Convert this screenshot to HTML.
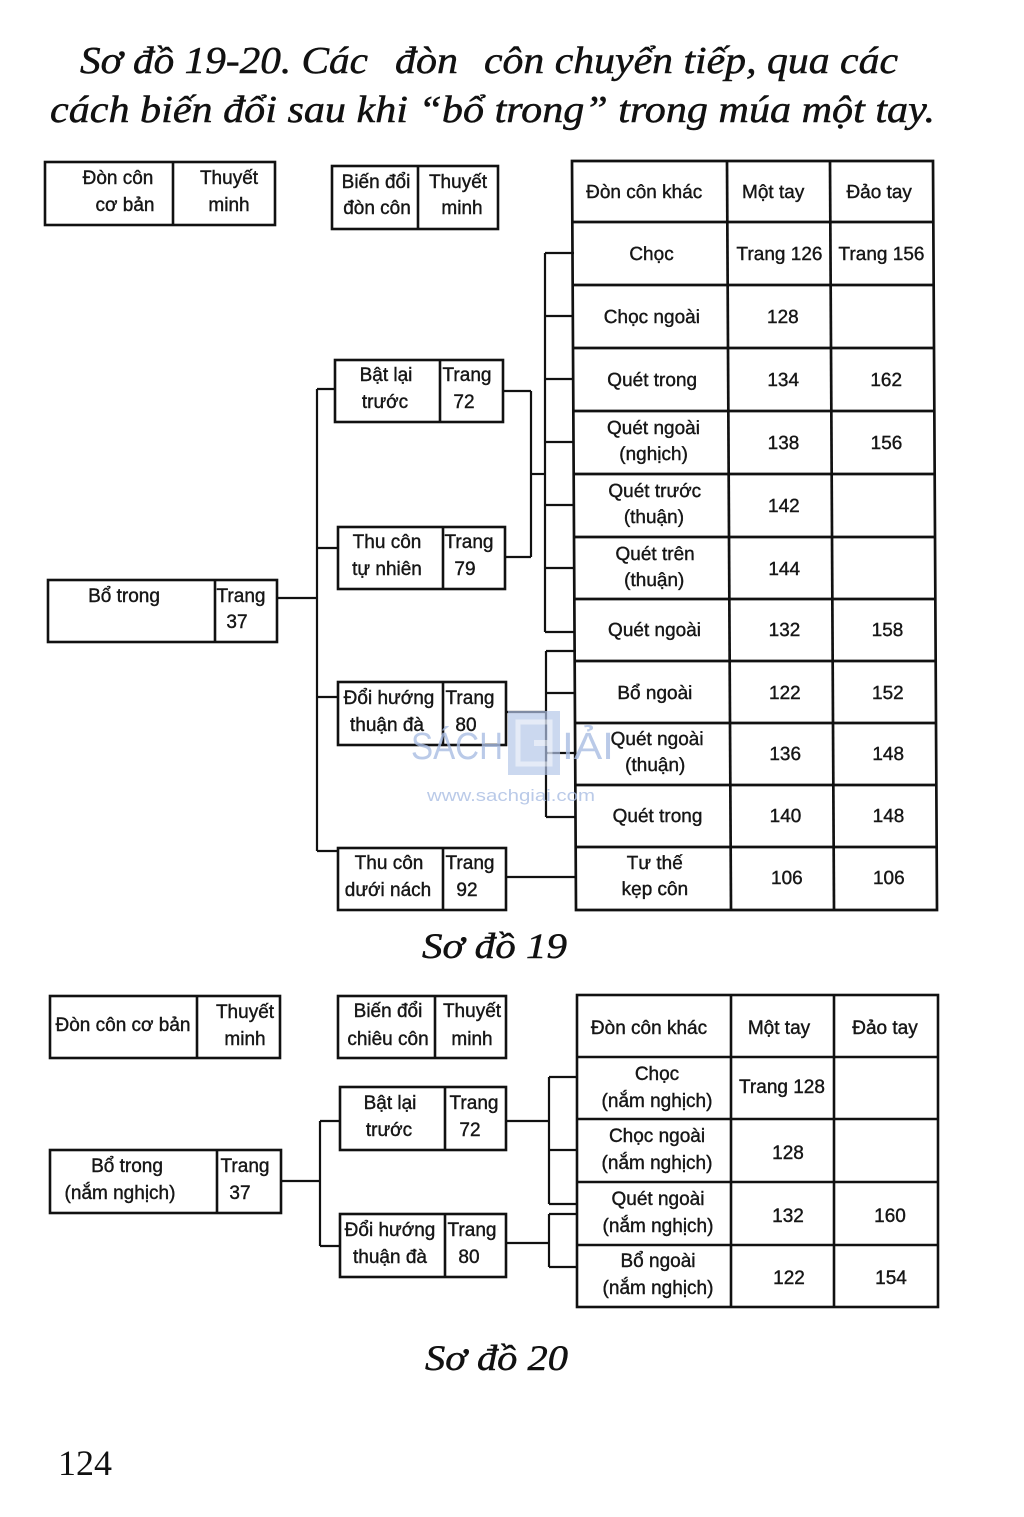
<!DOCTYPE html>
<html><head><meta charset="utf-8"><style>
html,body{margin:0;padding:0;background:#fff;}
svg{display:block;}
.t{font-family:"Liberation Sans",sans-serif;font-size:19px;fill:#161616;text-anchor:middle;stroke:#161616;stroke-width:0.4;}
.ti{font-family:"Liberation Serif",serif;font-style:italic;fill:#111;stroke:#111;stroke-width:0.5;}
</style></head><body>
<svg width="1024" height="1517" viewBox="0 0 1024 1517" xmlns="http://www.w3.org/2000/svg">
<rect width="1024" height="1517" fill="#fff"/>

<!-- Title -->
<text class="ti" x="80" y="73" font-size="38" textLength="288" lengthAdjust="spacingAndGlyphs">Sơ đồ 19-20. Các</text>
<text class="ti" x="395" y="73" font-size="38" textLength="63" lengthAdjust="spacingAndGlyphs">đòn</text>
<text class="ti" x="484" y="73" font-size="38" textLength="414" lengthAdjust="spacingAndGlyphs">côn chuyển tiếp, qua các</text>
<text class="ti" x="50" y="122" font-size="38" textLength="885" lengthAdjust="spacingAndGlyphs">cách biến đổi sau khi “bổ trong” trong múa một tay.</text>

<!-- ===== Diagram 19 ===== -->
<g stroke="#111" stroke-width="2.6" fill="none">
  <rect x="45" y="162" width="230" height="63"/>
  <line x1="173" y1="162" x2="173" y2="225"/>
  <rect x="332" y="166" width="166" height="63"/>
  <line x1="418" y1="166" x2="418" y2="229"/>
  <rect x="48" y="580" width="229" height="62"/>
  <line x1="215" y1="580" x2="215" y2="642"/>
  <rect x="335" y="360" width="168" height="62"/>
  <line x1="440" y1="360" x2="440" y2="422"/>
  <rect x="338" y="527" width="167" height="62"/>
  <line x1="443" y1="527" x2="443" y2="589"/>
  <rect x="338" y="682" width="168" height="63"/>
  <line x1="443" y1="682" x2="443" y2="745"/>
  <rect x="338" y="848" width="168" height="62"/>
  <line x1="443" y1="848" x2="443" y2="910"/>
</g>
<g stroke="#111" stroke-width="2.2" fill="none">
  <line x1="277" y1="598" x2="317" y2="598"/>
  <line x1="317" y1="389" x2="317" y2="851"/>
  <line x1="317" y1="389" x2="335" y2="389"/>
  <line x1="317" y1="548" x2="338" y2="548"/>
  <line x1="317" y1="697" x2="338" y2="697"/>
  <line x1="317" y1="851" x2="338" y2="851"/>

  <line x1="503" y1="391" x2="531" y2="391"/>
  <line x1="505" y1="557" x2="531" y2="557"/>
  <line x1="531" y1="391" x2="531" y2="557"/>
  <line x1="531" y1="474" x2="545" y2="474"/>

  <line x1="545" y1="253" x2="545" y2="632"/>
  <line x1="545" y1="253" x2="574" y2="253"/>
  <line x1="545" y1="316" x2="574" y2="316"/>
  <line x1="545" y1="379" x2="574" y2="379"/>
  <line x1="545" y1="442" x2="574" y2="442"/>
  <line x1="545" y1="505" x2="574" y2="505"/>
  <line x1="545" y1="568" x2="575" y2="568"/>
  <line x1="545" y1="632" x2="575" y2="632"/>

  <line x1="506" y1="712" x2="546" y2="712"/>
  <line x1="546" y1="651" x2="546" y2="817"/>
  <line x1="546" y1="651" x2="576" y2="651"/>
  <line x1="546" y1="693" x2="576" y2="693"/>
  <line x1="546" y1="753" x2="576" y2="753"/>
  <line x1="546" y1="817" x2="576" y2="817"/>

  <line x1="506" y1="877" x2="576" y2="877"/>
</g>

<text class="t" x="118" y="184">Đòn côn</text>
<text class="t" x="125" y="211">cơ bản</text>
<text class="t" x="229" y="184">Thuyết</text>
<text class="t" x="229" y="211">minh</text>
<text class="t" x="376" y="188">Biến đổi</text>
<text class="t" x="377" y="214">đòn côn</text>
<text class="t" x="458" y="188">Thuyết</text>
<text class="t" x="462" y="214">minh</text>

<text class="t" x="124" y="602">Bổ trong</text>
<text class="t" x="241" y="602">Trang</text>
<text class="t" x="237" y="628">37</text>

<text class="t" x="386" y="381">Bật lại</text>
<text class="t" x="385" y="408">trước</text>
<text class="t" x="467" y="381">Trang</text>
<text class="t" x="464" y="408">72</text>

<text class="t" x="387" y="548">Thu côn</text>
<text class="t" x="387" y="575">tự nhiên</text>
<text class="t" x="469" y="548">Trang</text>
<text class="t" x="465" y="575">79</text>

<text class="t" x="389" y="704">Đổi hướng</text>
<text class="t" x="387" y="731">thuận đà</text>
<text class="t" x="470" y="704">Trang</text>
<text class="t" x="466" y="731">80</text>

<text class="t" x="389" y="869">Thu côn</text>
<text class="t" x="388" y="896">dưới nách</text>
<text class="t" x="470" y="869">Trang</text>
<text class="t" x="467" y="896">92</text>

<g transform="translate(-2.86,0) skewX(0.306)">
  <g stroke="#111" stroke-width="2.7" fill="none">
    <rect x="574" y="161" width="361" height="749"/>
    <line x1="729" y1="161" x2="729" y2="910"/>
    <line x1="832" y1="161" x2="832" y2="910"/>
    <line x1="574" y1="222" x2="935" y2="222"/>
    <line x1="574" y1="285" x2="935" y2="285"/>
    <line x1="574" y1="348" x2="935" y2="348"/>
    <line x1="574" y1="411" x2="935" y2="411"/>
    <line x1="574" y1="474" x2="935" y2="474"/>
    <line x1="574" y1="537" x2="935" y2="537"/>
    <line x1="574" y1="599" x2="935" y2="599"/>
    <line x1="574" y1="661" x2="935" y2="661"/>
    <line x1="574" y1="723" x2="935" y2="723"/>
    <line x1="574" y1="785" x2="935" y2="785"/>
    <line x1="574" y1="847" x2="935" y2="847"/>
  </g>
  <text class="t" x="646" y="198">Đòn côn khác</text>
  <text class="t" x="775" y="198">Một tay</text>
  <text class="t" x="881" y="198">Đảo tay</text>

  <text class="t" x="653" y="260">Chọc</text>
  <text class="t" x="781" y="260">Trang 126</text>
  <text class="t" x="883" y="260">Trang 156</text>

  <text class="t" x="653" y="323">Chọc ngoài</text>
  <text class="t" x="784" y="323">128</text>

  <text class="t" x="653" y="386">Quét trong</text>
  <text class="t" x="784" y="386">134</text>
  <text class="t" x="887" y="386">162</text>

  <text class="t" x="654" y="434">Quét ngoài</text>
  <text class="t" x="654" y="460">(nghịch)</text>
  <text class="t" x="784" y="449">138</text>
  <text class="t" x="887" y="449">156</text>

  <text class="t" x="655" y="497">Quét trước</text>
  <text class="t" x="654" y="523">(thuận)</text>
  <text class="t" x="784" y="512">142</text>

  <text class="t" x="655" y="560">Quét trên</text>
  <text class="t" x="654" y="586">(thuận)</text>
  <text class="t" x="784" y="575">144</text>

  <text class="t" x="654" y="636">Quét ngoài</text>
  <text class="t" x="784" y="636">132</text>
  <text class="t" x="887" y="636">158</text>

  <text class="t" x="654" y="699">Bổ ngoài</text>
  <text class="t" x="784" y="699">122</text>
  <text class="t" x="887" y="699">152</text>

  <text class="t" x="656" y="745">Quét ngoài</text>
  <text class="t" x="654" y="771">(thuận)</text>
  <text class="t" x="784" y="760">136</text>
  <text class="t" x="887" y="760">148</text>

  <text class="t" x="656" y="822">Quét trong</text>
  <text class="t" x="784" y="822">140</text>
  <text class="t" x="887" y="822">148</text>

  <text class="t" x="653" y="869">Tư thế</text>
  <text class="t" x="653" y="895">kẹp côn</text>
  <text class="t" x="785" y="884">106</text>
  <text class="t" x="887" y="884">106</text>
</g>

<text class="ti" x="422" y="958" font-size="36" textLength="145" lengthAdjust="spacingAndGlyphs">Sơ đồ 19</text>

<!-- ===== Diagram 20 ===== -->
<g stroke="#111" stroke-width="2.6" fill="none">
  <rect x="50" y="996" width="230" height="62"/>
  <line x1="197" y1="996" x2="197" y2="1058"/>
  <rect x="338" y="996" width="168" height="62"/>
  <line x1="435" y1="996" x2="435" y2="1058"/>

  <rect x="50" y="1150" width="231" height="63"/>
  <line x1="217" y1="1150" x2="217" y2="1213"/>

  <rect x="340" y="1087" width="166" height="63"/>
  <line x1="445" y1="1087" x2="445" y2="1150"/>
  <rect x="340" y="1214" width="166" height="63"/>
  <line x1="445" y1="1214" x2="445" y2="1277"/>

  <rect x="577" y="995" width="361" height="312"/>
  <line x1="731" y1="995" x2="731" y2="1307"/>
  <line x1="834" y1="995" x2="834" y2="1307"/>
  <line x1="577" y1="1057" x2="938" y2="1057"/>
  <line x1="577" y1="1119" x2="938" y2="1119"/>
  <line x1="577" y1="1182" x2="938" y2="1182"/>
  <line x1="577" y1="1245" x2="938" y2="1245"/>
</g>
<g stroke="#111" stroke-width="2.2" fill="none">
  <line x1="281" y1="1181" x2="320" y2="1181"/>
  <line x1="320" y1="1121" x2="320" y2="1246"/>
  <line x1="320" y1="1121" x2="340" y2="1121"/>
  <line x1="320" y1="1246" x2="340" y2="1246"/>

  <line x1="506" y1="1121" x2="549" y2="1121"/>
  <line x1="549" y1="1077" x2="549" y2="1204"/>
  <line x1="549" y1="1077" x2="577" y2="1077"/>
  <line x1="549" y1="1150" x2="577" y2="1150"/>
  <line x1="549" y1="1204" x2="577" y2="1204"/>

  <line x1="506" y1="1243" x2="549" y2="1243"/>
  <line x1="549" y1="1214" x2="549" y2="1267"/>
  <line x1="549" y1="1214" x2="577" y2="1214"/>
  <line x1="549" y1="1267" x2="577" y2="1267"/>
</g>

<text class="t" x="123" y="1031">Đòn côn cơ bản</text>
<text class="t" x="245" y="1018">Thuyết</text>
<text class="t" x="245" y="1045">minh</text>
<text class="t" x="388" y="1017">Biến đổi</text>
<text class="t" x="388" y="1045">chiêu côn</text>
<text class="t" x="472" y="1017">Thuyết</text>
<text class="t" x="472" y="1045">minh</text>

<text class="t" x="127" y="1172">Bổ trong</text>
<text class="t" x="120" y="1199">(nắm nghịch)</text>
<text class="t" x="245" y="1172">Trang</text>
<text class="t" x="240" y="1199">37</text>

<text class="t" x="390" y="1109">Bật lại</text>
<text class="t" x="389" y="1136">trước</text>
<text class="t" x="474" y="1109">Trang</text>
<text class="t" x="470" y="1136">72</text>

<text class="t" x="390" y="1236">Đổi hướng</text>
<text class="t" x="390" y="1263">thuận đà</text>
<text class="t" x="472" y="1236">Trang</text>
<text class="t" x="469" y="1263">80</text>

<text class="t" x="649" y="1034">Đòn côn khác</text>
<text class="t" x="779" y="1034">Một tay</text>
<text class="t" x="885" y="1034">Đảo tay</text>

<text class="t" x="657" y="1080">Chọc</text>
<text class="t" x="657" y="1107">(nắm nghịch)</text>
<text class="t" x="782" y="1093">Trang 128</text>

<text class="t" x="657" y="1142">Chọc ngoài</text>
<text class="t" x="657" y="1169">(nắm nghịch)</text>
<text class="t" x="788" y="1159">128</text>

<text class="t" x="658" y="1205">Quét ngoài</text>
<text class="t" x="658" y="1232">(nắm nghịch)</text>
<text class="t" x="788" y="1222">132</text>
<text class="t" x="890" y="1222">160</text>

<text class="t" x="658" y="1267">Bổ ngoài</text>
<text class="t" x="658" y="1294">(nắm nghịch)</text>
<text class="t" x="789" y="1284">122</text>
<text class="t" x="891" y="1284">154</text>

<text class="ti" x="425" y="1370" font-size="36" textLength="143" lengthAdjust="spacingAndGlyphs">Sơ đồ 20</text>

<text x="58" y="1475" font-family="Liberation Serif, serif" font-size="36" fill="#111" textLength="54" lengthAdjust="spacingAndGlyphs">124</text>

<!-- watermark -->
<g opacity="0.8">
  <text x="411" y="759" font-family="Liberation Sans, sans-serif" font-size="38" fill="#a9bde3" textLength="92" lengthAdjust="spacingAndGlyphs">SÁCH</text>
  <rect x="508" y="711" width="52" height="64" fill="#b3c5e8" opacity="0.85"/>
  <rect x="518" y="722" width="32" height="42" fill="none" stroke="#dfe7f6" stroke-width="5"/>
  <rect x="534" y="740" width="16" height="6" fill="#dfe7f6"/>
  <text x="562" y="759" font-family="Liberation Sans, sans-serif" font-size="38" fill="#a9bde3" textLength="52" lengthAdjust="spacingAndGlyphs">IẢI</text>
  <text x="427" y="801" font-family="Liberation Sans, sans-serif" font-size="17" fill="#a9bde3" textLength="168" lengthAdjust="spacingAndGlyphs">www.sachgiai.com</text>
</g>
</svg>
</body></html>
